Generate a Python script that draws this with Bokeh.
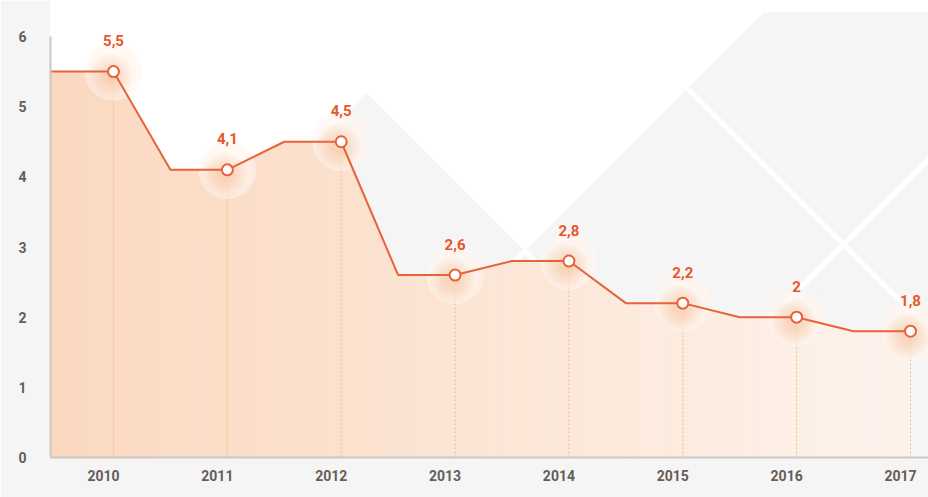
import numpy as np
from bokeh.plotting import figure
from bokeh.models import FixedTicker
from bokeh.core.properties import value
from bokeh.embed import file_html
from bokeh.resources import INLINE

# ---- data ----
years = [2010, 2011, 2012, 2013, 2014, 2015, 2016, 2017]
rates = [5.5, 4.1, 4.5, 2.6, 2.8, 2.2, 2.0, 1.8]
rate_labels = ["5,5", "4,1", "4,5", "2,6", "2,8", "2,2", "2", "1,8"]
year_labels = ["2010", "2011", "2012", "2013", "2014", "2015", "2016", "2017"]
y_ticks = [0, 1, 2, 3, 4, 5, 6]

# ---- layout constants ----
W, H = 928, 497
FRAME_L, FRAME_T = 50, 0          # page pixels of frame's top-left
FRAME_W, FRAME_H = 878, 457
ppx = 797 / 7.0                   # px per year
ppy = 421 / 6.0                   # px per unit
X0 = 2010 - 63 / ppx
X1 = X0 + FRAME_W / ppx
Y0 = 0.0
Y1 = FRAME_H / ppy

def dx(px):
    return X0 + (px - FRAME_L) / ppx

def dy(py):
    return Y1 - (py - FRAME_T) / ppy

FONT = "Roboto"
ORANGE = "#e8623a"

p = figure(width=W, height=H, x_range=(X0, X1), y_range=(Y0, Y1),
           output_backend="svg", toolbar_location=None,
           min_border_left=FRAME_L, min_border_bottom=H - FRAME_H,
           min_border_top=0, min_border_right=0)
p.background_fill_color = "white"
p.border_fill_color = "#f5f5f5"
p.outline_line_color = None
p.xgrid.visible = False
p.ygrid.visible = False

# ---- decorative background (page-pixel geometry) ----
gray_poly = [(50, 90), (209, 249), (366, 92), (524.5, 250.5), (763, 12),
             (940, 12), (940, 470), (40, 470), (40, 80)]
p.patch([dx(a) for a, b in gray_poly], [dy(b) for a, b in gray_poly],
        fill_color="#f5f5f5", line_color=None)
stripes = [
    [(687, 88), (1000, 401)],
    [(1000, 87), (580, 507)],
    [(524.5, 250.5), (780, 506)],
    [(524.5, 250.5), (300, 475)],
]
p.multi_line([[dx(a) for a, b in s] for s in stripes],
             [[dy(b) for a, b in s] for s in stripes],
             line_color="white", line_width=5)

# ---- step-ramp path built from the data ----
xs = [X0, years[0]]
ys = [rates[0], rates[0]]
for yr, r in zip(years[1:], rates[1:]):
    xs += [yr - 0.5, yr]
    ys += [r, r]

# gradient area under the path (per-segment slices)
c_left = np.array([251, 217, 192])
c_right = np.array([253, 243, 236])
pxs, pys, cols = [], [], []
sub = 4
for i in range(len(xs) - 1):
    for k in range(sub):
        t0, t1 = k / sub, (k + 1) / sub
        xa = xs[i] + (xs[i + 1] - xs[i]) * t0
        xb = xs[i] + (xs[i + 1] - xs[i]) * t1
        ya = ys[i] + (ys[i + 1] - ys[i]) * t0
        yb = ys[i] + (ys[i + 1] - ys[i]) * t1
        pxs.append([xa, xb, xb, xa])
        pys.append([0, 0, yb, ya])
        f = ((xa + xb) / 2 - X0) / (xs[-1] - X0)
        c = (c_left + (c_right - c_left) * f).astype(int)
        cols.append("#%02x%02x%02x" % tuple(c))
p.patches(pxs, pys, fill_color=cols, line_color=cols, line_width=1)

# dotted drop lines
p.segment(x0=years, y0=[0] * len(years), x1=years, y1=rates,
          line_color="#f3b97e", line_dash="2 2", line_width=1)

# soft glow halos: light disc + warm core slightly below-left
p.scatter(years, rates, size=58, fill_color="#fff6f0", fill_alpha=0.55,
          line_color=None)
p.scatter(years, rates, size=50, fill_color="#fff3ea", fill_alpha=0.35,
          line_color=None)
gx = [y - 3 / ppx for y in years]
gy = [r - 5 / ppy for r in rates]
for size in range(44, 10, -6):
    p.scatter(gx, gy, size=size, fill_color="#f7a875", fill_alpha=0.07,
              line_color=None)

# line and markers
p.line(xs, ys, line_color=ORANGE, line_width=2)
p.scatter(years, rates, size=11, fill_color="white", line_color=ORANGE,
          line_width=2)

# value labels
p.text(years, rates, text=rate_labels, y_offset=-31,
       text_align="center", text_baseline="middle",
       text_font=value(FONT), text_font_style="bold",
       text_font_size="15px", text_color="#e8572a")

# ---- axes ----
shift = 10 / ppx
x_tick_pos = [round(y - shift, 4) for y in years]
p.xaxis.ticker = FixedTicker(ticks=x_tick_pos)
p.xaxis.major_label_overrides = {t: lab for t, lab in zip(x_tick_pos, year_labels)}
p.yaxis.ticker = FixedTicker(ticks=y_ticks)
p.yaxis.bounds = (0, 6)
for ax in (p.xaxis, p.yaxis):
    ax.axis_line_color = "#cdc7c2"
    ax.axis_line_width = 2
    ax.major_tick_line_color = None
    ax.minor_tick_line_color = None
    ax.major_tick_out = 0
    ax.major_tick_in = 0
    ax.major_label_text_font = FONT
    ax.major_label_text_font_style = "bold"
    ax.major_label_text_font_size = "14px"
    ax.major_label_text_color = "#655d58"
p.yaxis.major_label_standoff = 24
p.xaxis.major_label_standoff = 12

open("out.html", "w").write(file_html(p, INLINE))
